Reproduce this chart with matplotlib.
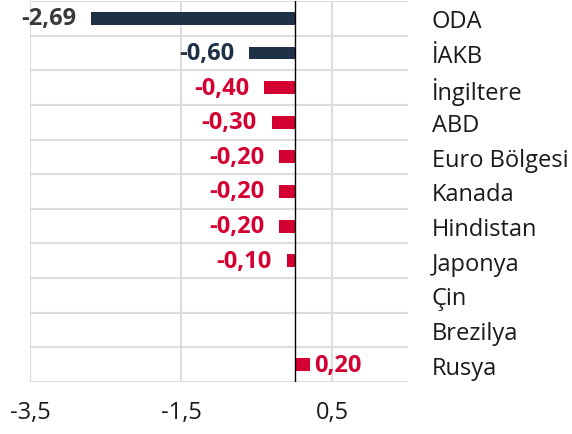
import numpy as np
import matplotlib.pyplot as plt
from matplotlib.ticker import FixedLocator, FuncFormatter

plt.rcParams['font.family'] = ['Open Sans', 'DejaVu Sans']

categories = ["ODA", "İAKB", "İngiltere", "ABD", "Euro Bölgesi", "Kanada",
              "Hindistan", "Japonya", "Çin", "Brezilya", "Rusya"]
values = [-2.69, -0.60, -0.40, -0.30, -0.20, -0.20, -0.20, -0.10, None, None, 0.20]
bar_colors = ["#1f3147", "#1f3147", "#d50032", "#d50032", "#d50032", "#d50032",
              "#d50032", "#d50032", "#d50032", "#d50032", "#d50032"]
label_colors = ["#3a3a3a", "#1f3147", "#d50032", "#d50032", "#d50032", "#d50032",
                "#d50032", "#d50032", "#d50032", "#d50032", "#d50032"]
x_ticks = [-3.5, -1.5, 0.5]


def fmt(v):
    return f"{v:.2f}".replace(".", ",")


fig = plt.figure(figsize=(5.72, 4.35), dpi=100)
ax = fig.add_axes([30 / 572, 1 - 383 / 435, 378 / 572, 381 / 435])

y = np.arange(len(categories))
for i, (v, c) in enumerate(zip(values, bar_colors)):
    if v is None:
        continue
    ax.barh(i, v, height=0.37, color=c, zorder=3)
    if v < 0:
        ax.annotate(fmt(v), (v, i), xytext=(-11, 0), textcoords="offset points",
                    ha="right", va="center", fontsize=17, fontweight="bold",
                    color=label_colors[i], annotation_clip=False)
    else:
        ax.annotate(fmt(v), (v, i), xytext=(3, 0), textcoords="offset points",
                    ha="left", va="center", fontsize=17, fontweight="bold",
                    color=label_colors[i], annotation_clip=False)

ax.set_xlim(-3.5, 1.5)
ax.set_ylim(len(categories) - 0.5, -0.5)
ax.axvline(0, color="black", lw=1, zorder=4)

ax.xaxis.set_major_locator(FixedLocator(x_ticks))
ax.xaxis.set_major_formatter(FuncFormatter(lambda v, p: f"{v:.1f}".replace(".", ",")))
ax.set_yticks(y)
ax.set_yticklabels(categories)
ax.yaxis.tick_right()
ax.yaxis.set_minor_locator(FixedLocator(np.arange(-0.5, len(categories), 1.0)))

ax.grid(axis="x", which="major", color="#dddddd", lw=1.5, zorder=0)
ax.grid(axis="y", which="minor", color="#dddddd", lw=1.5, zorder=0)
ax.tick_params(axis="both", which="both", length=0)
ax.tick_params(axis="y", pad=17, labelsize=17, labelcolor="#1a1a1a")
ax.tick_params(axis="x", pad=13, labelsize=17, labelcolor="#1a1a1a")
for s in ax.spines.values():
    s.set_visible(False)

fig.savefig("out.png", dpi=100)
